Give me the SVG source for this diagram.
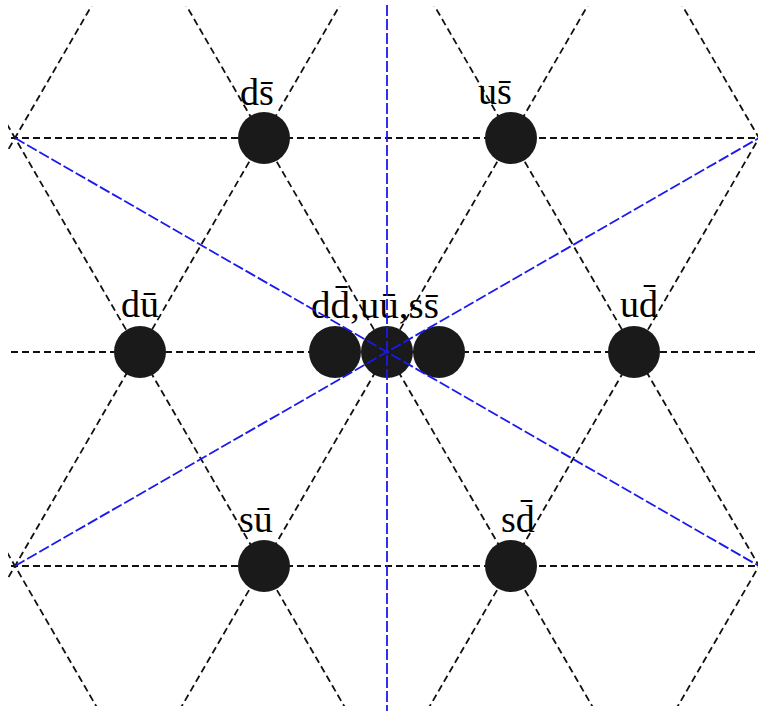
<svg xmlns="http://www.w3.org/2000/svg" width="758" height="711" viewBox="0 0 758 711">
<style>
.grid{stroke:#111;stroke-width:1.8;stroke-dasharray:7 4;fill:none}
.axis{stroke:#1a1aee;stroke-width:1.8;stroke-dasharray:11 3;fill:none}
.dot{fill:#1a1a1a}
.lbl{font-family:"Liberation Serif","Times New Roman",serif;font-size:38px;fill:#000}
</style>
<defs>
<clipPath id="clip"><rect x="8" y="6" width="750" height="700"/></clipPath>
</defs>
<rect width="758" height="711" fill="#fff"/>
<g id="connectors">
<g class="grid" clip-path="url(#clip)">
<line x1="0" y1="138" x2="758" y2="138"/>
<line x1="0" y1="352" x2="758" y2="352"/>
<line x1="0" y1="566" x2="758" y2="566"/>
<line x1="-312.96" y1="0" x2="99" y2="711"/>
<line x1="-64.96" y1="0" x2="347" y2="711"/>
<line x1="183.04" y1="0" x2="595" y2="711"/>
<line x1="431.04" y1="0" x2="843" y2="711"/>
<line x1="679.04" y1="0" x2="1091" y2="711"/>
<line x1="94.96" y1="0" x2="-317" y2="711"/>
<line x1="342.96" y1="0" x2="-69" y2="711"/>
<line x1="590.96" y1="0" x2="179" y2="711"/>
<line x1="838.96" y1="0" x2="427" y2="711"/>
<line x1="1086.96" y1="0" x2="675" y2="711"/>
</g>
</g>
<g id="node-ds"><circle class="dot" cx="264" cy="138" r="26"/><text class="lbl" x="240" y="105">ds̄</text></g>
<g id="node-us"><circle class="dot" cx="511" cy="138" r="26"/><text class="lbl" x="478" y="104">us̄</text></g>
<g id="node-du"><circle class="dot" cx="140" cy="352" r="26"/><text class="lbl" x="121" y="317">dū</text></g>
<g id="node-ud"><circle class="dot" cx="634" cy="352" r="26"/><text class="lbl" x="620" y="317">ud̄</text></g>
<g id="node-center">
<circle class="dot" cx="335" cy="352" r="26"/>
<circle class="dot" cx="387" cy="352" r="26"/>
<circle class="dot" cx="439" cy="352" r="26"/>
<text class="lbl" x="311" y="318" textLength="128" lengthAdjust="spacingAndGlyphs">dd̄,uū,ss̄</text>
</g>
<g id="node-su"><circle class="dot" cx="264" cy="566" r="26"/><text class="lbl" x="239" y="532">sū</text></g>
<g id="node-sd"><circle class="dot" cx="511" cy="566" r="26"/><text class="lbl" x="501" y="532">sd̄</text></g>
<g id="axes" class="axis">
<line x1="387" y1="5" x2="387" y2="711"/>
<line x1="15" y1="138" x2="759" y2="566"/>
<line x1="15" y1="566" x2="759" y2="138"/>
</g>
</svg>
